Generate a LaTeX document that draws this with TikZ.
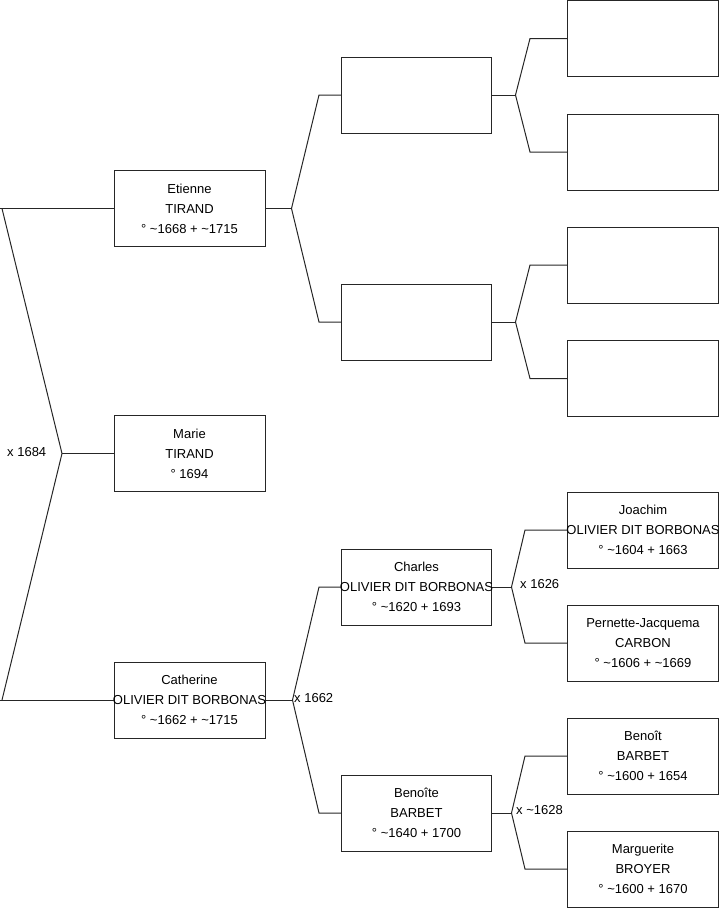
\documentclass[tikz,border=0pt]{standalone}
\usepackage{fontspec}
\setmainfont{Liberation Sans}
\newcommand{\ca}{\textasciitilde}
\newcommand{\pline}[1]{\makebox[140pt][c]{#1}}
\begin{document}
\begin{tikzpicture}[x=1pt,y=-1pt,
  person/.style={draw=black!85, line width=1pt, minimum width=151pt, minimum height=76pt,
    inner sep=0pt, align=center, font=\fontsize{13}{20}\selectfont},
  link/.style={draw=black!85, line width=1pt},
  lbl/.style={anchor=west, inner sep=0pt, font=\fontsize{13}{16}\selectfont}]
\useasboundingbox (0,0) rectangle (719,908);
% generation 1
\node[person] (e) at (189.5,208.5) {Etienne\\TIRAND\\° \ca1668 + \ca1715};
\node[person] (m) at (189.5,453.5) {Marie\\TIRAND\\° 1694};
\node[person] (c) at (189.5,700) {Catherine\\\pline{OLIVIER DIT BORBONAS}\\° \ca1662 + \ca1715};
% generation 2
\node[person, minimum width=150pt] (a) at (416.5,95) {};
\node[person, minimum width=150pt] (b) at (416.5,322) {};
\node[person, minimum width=150pt] (ch) at (416.5,587) {Charles\\\pline{OLIVIER DIT BORBONAS}\\° \ca1620 + 1693};
\node[person, minimum width=150pt] (be) at (416.5,813) {Benoîte\\BARBET\\° \ca1640 + 1700};
% generation 3
\node[person] (a1) at (643,38.5) {};
\node[person] (a2) at (643,152) {};
\node[person] (b1) at (643,265) {};
\node[person] (b2) at (643,378.5) {};
\node[person] (jo) at (643,530) {Joachim\\\pline{OLIVIER DIT BORBONAS}\\° \ca1604 + 1663};
\node[person] (pe) at (643,643) {Pernette-Jacquema\\CARBON\\° \ca1606 + \ca1669};
\node[person] (bt) at (643,756) {Benoît\\BARBET\\° \ca1600 + 1654};
\node[person] (ma) at (643,869) {Marguerite\\BROYER\\° \ca1600 + 1670};
% root connector
\coordinate (r1) at (0,208.5);
\coordinate (r2) at (0,700);
\coordinate (rv) at (62,453.5);
\draw[link] (r1) -- (e.west);
\draw[link] (r2) -- (c.west);
\draw[link] (2,208.5) -- (rv) -- (2,700);
\draw[link] (rv) -- (m.west);
\node[lbl] (x1684) at (7,452) {x 1684};
% Etienne
\draw[link] (e.east) -- ++(26,0) coordinate (ve);
\draw[link] (a.west) -- ++(-22,0) -- (ve) -- ([xshift=-22pt]b.west) -- (b.west);
% Catherine
\draw[link] (c.east) -- ++(27,0) coordinate (vc);
\draw[link] (ch.west) -- ++(-22,0) -- (vc) -- ([xshift=-22pt]be.west) -- (be.west);
\node[lbl] (x1662) at (294,698.5) {x 1662};
% a
\draw[link] (a.east) -- ++(23.5,0) coordinate (va);
\draw[link] (a1.west) -- ++(-37,0) -- (va) -- ([xshift=-37pt]a2.west) -- (a2.west);
% b
\draw[link] (b.east) -- ++(23.5,0) coordinate (vb);
\draw[link] (b1.west) -- ++(-37,0) -- (vb) -- ([xshift=-37pt]b2.west) -- (b2.west);
% Charles
\draw[link] (ch.east) -- ++(19.5,0) coordinate (vch);
\draw[link] (jo.west) -- ++(-42,0) -- (vch) -- ([xshift=-42pt]pe.west) -- (pe.west);
\node[lbl] (x1626) at (520,584.5) {x 1626};
% Benoite
\draw[link] (be.east) -- ++(19.5,0) coordinate (vbe);
\draw[link] (bt.west) -- ++(-42,0) -- (vbe) -- ([xshift=-42pt]ma.west) -- (ma.west);
\node[lbl] (x1628) at (516,810.5) {x \ca1628};
\end{tikzpicture}
\end{document}
